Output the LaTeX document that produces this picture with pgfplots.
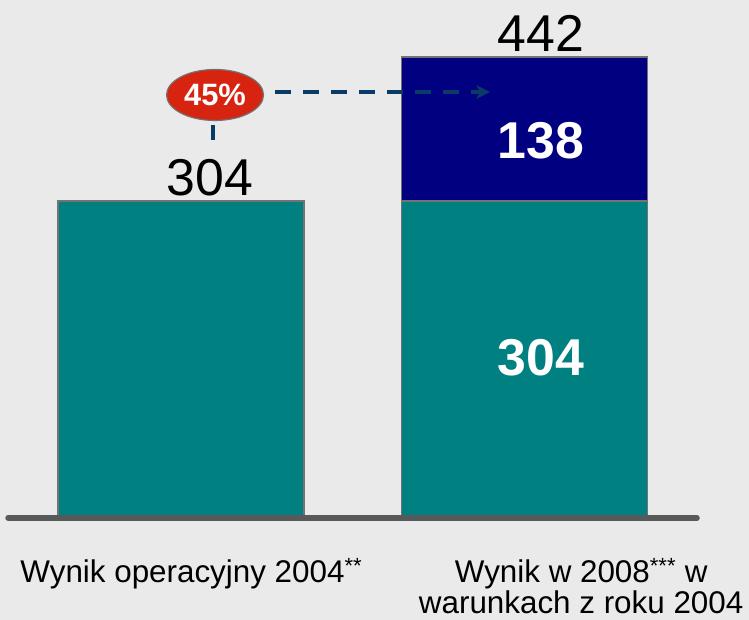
\documentclass[border=0pt]{standalone}
\usepackage{pgfplots}
\pgfplotsset{compat=1.18}
\usepackage{fontspec}
\setmainfont{Liberation Sans}
\usetikzlibrary{arrows.meta,shapes.geometric}

\definecolor{bgc}{HTML}{EAEAEA}
\definecolor{tealbar}{HTML}{008080}
\definecolor{navybar}{HTML}{000080}
\definecolor{redpill}{HTML}{D62410}
\definecolor{arrowc}{HTML}{0A3A66}
\definecolor{basec}{HTML}{58595B}

\begin{document}
\begin{tikzpicture}
\begin{axis}[
  x=343.5bp, y=1.0428bp,
  xmin=-0.527, xmax=1.6536, ymin=-97.8, ymax=496.7,
  axis lines=none, ticks=none, clip=false,
  axis background/.style={fill=bgc},
  ybar stacked, bar width=0.716,
  every axis plot/.append style={draw=black!55, line width=1.3bp},
  after end axis/.code={
    % baseline
    \draw[basec, line width=5.5bp, line cap=round] (axis cs:-0.5036,0) -- (axis cs:1.5022,0);
    % totals
    \node[anchor=base, inner sep=0pt, font=\fontsize{52}{60}\selectfont] at (axis cs:0.084,309) {304};
    \node[anchor=base, inner sep=0pt, font=\fontsize{52}{60}\selectfont] at (axis cs:1.048,447) {442};
    % segment values
    \node[white, font=\fontsize{52}{60}\selectfont\bfseries] at (axis cs:1.048,362) {138};
    \node[white, font=\fontsize{52}{60}\selectfont\bfseries] at (axis cs:1.048,154) {304};
    % growth marker
    \draw[arrowc, line width=4bp] (axis cs:0.093,362.5) -- (axis cs:0.093,376.9);
    \draw[arrowc, line width=4bp, dash pattern=on 16bp off 12bp, -{Stealth[length=14bp,width=14bp]}]
      (axis cs:0.2737,408.5) -- (axis cs:0.8996,408.5);
    \node[ellipse, fill=redpill, draw=black!55, line width=1.2bp, minimum width=97bp, minimum height=51bp,
          inner sep=0pt, text=white, font=\fontsize{31}{36}\selectfont\bfseries] at (axis cs:0.099,405.6) {45\%};
    % category labels
    \node[anchor=base, inner sep=0pt, font=\fontsize{31.5}{36}\selectfont] at (axis cs:0.03,-62.3)
      {Wynik operacyjny 2004\textsuperscript{**}};
    \node[anchor=base, inner sep=0pt, font=\fontsize{31.5}{36}\selectfont] at (axis cs:1.165,-62.3)
      {Wynik w 2008\textsuperscript{***} w};
    \node[anchor=base, inner sep=0pt, font=\fontsize{31.5}{36}\selectfont] at (axis cs:1.165,-91.3)
      {warunkach z roku 2004};
  },
]
\addplot[fill=tealbar] coordinates {(0,304) (1,304)};
\addplot[fill=navybar] coordinates {(1,138)};
\end{axis}
\end{tikzpicture}
\end{document}
